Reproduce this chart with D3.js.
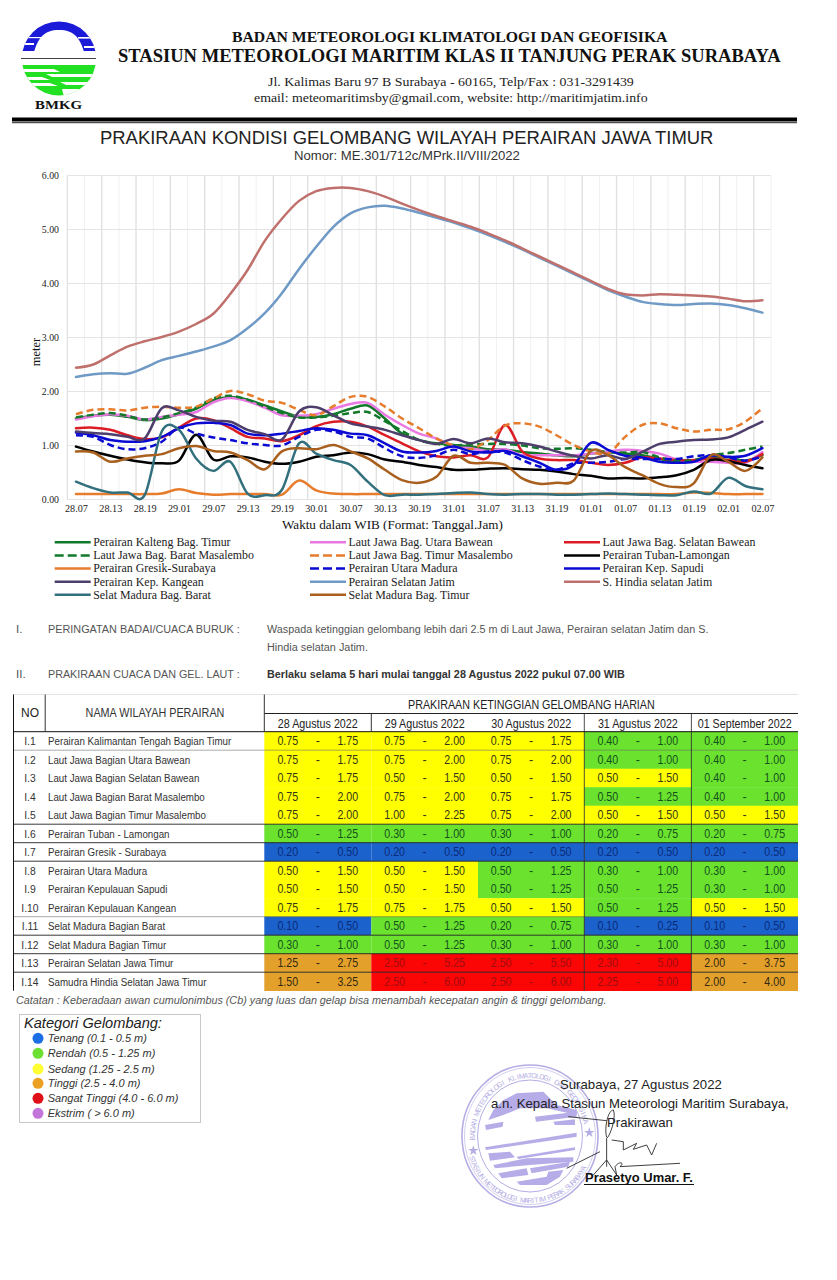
<!DOCTYPE html>
<html><head><meta charset="utf-8">
<script src="https://cdn.jsdelivr.net/npm/d3@7/dist/d3.min.js"></script>
<style>html,body{margin:0;padding:0;background:#fff}svg{display:block}</style>
</head><body><svg id="c" width="837" height="1280"></svg>
<script>
const times = ["28.07","28.10","28.13","28.16","28.19","28.22","29.01","29.04","29.07","29.10","29.13","29.16","29.19","29.22","30.01","30.04","30.07","30.10","30.13","30.16","30.19","30.22","31.01","31.04","31.07","31.10","31.13","31.16","31.19","31.22","01.01","01.04","01.07","01.10","01.13","01.16","01.19","01.22","02.01","02.04","02.07"];
const yTicks = [0,1,2,3,4,5,6];
const kalteng = [1.50,1.55,1.57,1.53,1.47,1.50,1.58,1.68,1.84,1.90,1.85,1.74,1.63,1.53,1.53,1.58,1.68,1.74,1.50,1.22,1.10,1.04,1.01,0.98,0.93,0.92,0.88,0.85,0.82,0.80,0.85,0.88,0.85,0.82,0.75,0.70,0.72,0.78,0.78,0.72,0.82];
const utaraBawean = [1.48,1.54,1.58,1.55,1.48,1.53,1.57,1.62,1.80,1.88,1.82,1.70,1.56,1.55,1.58,1.68,1.77,1.79,1.57,1.38,1.22,1.13,0.98,0.95,0.90,0.93,0.82,0.82,0.82,0.82,0.85,0.89,0.92,0.90,0.85,0.74,0.70,0.70,0.68,0.68,0.88];
const selatanBawean = [1.32,1.33,1.29,1.19,1.12,1.15,1.33,1.50,1.47,1.32,1.16,1.13,1.08,1.19,1.36,1.44,1.44,1.35,1.19,1.04,0.89,0.80,0.78,0.82,0.78,1.38,0.89,0.76,0.73,0.73,0.68,0.64,0.68,0.78,0.76,0.73,0.73,0.76,0.73,0.70,0.84];
const baratMasalembo = [1.52,1.57,1.60,1.55,1.48,1.52,1.60,1.70,1.87,1.92,1.85,1.72,1.60,1.52,1.52,1.55,1.60,1.62,1.45,1.27,1.10,1.03,1.00,1.02,1.03,1.03,1.00,0.95,0.94,0.95,0.92,0.88,0.87,0.88,0.78,0.72,0.73,0.82,0.86,0.92,0.98];
const timurMasalembo = [1.58,1.66,1.67,1.65,1.70,1.72,1.70,1.72,1.87,2.01,1.95,1.83,1.79,1.66,1.56,1.73,1.90,1.90,1.72,1.50,1.32,1.13,1.00,0.93,1.10,1.37,1.41,1.35,1.19,1.01,0.89,0.85,1.16,1.38,1.41,1.32,1.26,1.29,1.30,1.44,1.69];
const tubanLamongan = [0.98,0.89,0.81,0.74,0.69,0.67,0.72,1.20,0.74,0.80,0.78,0.70,0.66,0.70,0.79,0.82,0.87,0.84,0.74,0.70,0.64,0.60,0.55,0.55,0.57,0.58,0.56,0.55,0.52,0.47,0.44,0.39,0.40,0.39,0.41,0.45,0.55,0.73,0.71,0.64,0.58];
const gresikSurabaya = [0.10,0.10,0.10,0.10,0.10,0.11,0.19,0.12,0.09,0.10,0.10,0.10,0.09,0.35,0.17,0.11,0.10,0.10,0.10,0.10,0.10,0.10,0.10,0.10,0.10,0.10,0.10,0.10,0.10,0.10,0.10,0.10,0.10,0.10,0.10,0.10,0.13,0.12,0.10,0.10,0.10];
const utaraMadura = [1.19,1.16,1.01,0.93,0.95,1.07,1.33,1.22,1.15,1.10,1.04,1.01,1.00,1.16,1.29,1.26,1.16,1.13,0.95,0.80,0.77,0.82,0.92,0.84,0.89,0.87,0.73,0.61,0.55,0.67,0.68,0.70,0.75,0.75,0.75,0.75,0.80,0.82,0.78,0.72,0.80];
const kepSapudi = [1.24,1.19,1.10,1.07,1.08,1.16,1.32,1.41,1.42,1.38,1.22,1.19,1.22,1.27,1.32,1.29,1.22,1.19,1.04,0.89,0.87,0.90,0.98,0.89,0.87,0.90,0.80,0.68,0.55,0.64,1.05,0.92,0.81,0.78,0.70,0.68,0.70,0.82,0.79,0.81,0.95];
const kepKangean = [1.26,1.23,1.21,1.16,1.13,1.69,1.65,1.53,1.46,1.44,1.29,1.21,1.11,1.63,1.71,1.56,1.41,1.35,1.29,1.19,1.10,1.03,1.12,1.04,1.13,1.06,1.04,0.98,0.89,0.81,0.76,0.82,0.75,0.88,1.03,1.07,1.10,1.11,1.15,1.29,1.44];
const selatanJatim = [2.27,2.32,2.34,2.33,2.44,2.58,2.66,2.74,2.83,2.95,3.17,3.45,3.82,4.27,4.68,5.05,5.30,5.41,5.44,5.39,5.31,5.22,5.13,5.02,4.90,4.77,4.63,4.48,4.33,4.18,4.03,3.88,3.76,3.66,3.62,3.60,3.62,3.63,3.60,3.54,3.46];
const hindiaSelatan = [2.44,2.50,2.67,2.83,2.93,3.01,3.11,3.25,3.44,3.81,4.25,4.79,5.20,5.53,5.71,5.77,5.77,5.71,5.61,5.48,5.36,5.25,5.15,5.05,4.93,4.80,4.65,4.50,4.35,4.20,4.05,3.90,3.80,3.78,3.80,3.79,3.78,3.76,3.72,3.67,3.69];
const selatBarat = [0.33,0.21,0.13,0.13,0.08,1.26,1.29,0.76,0.53,0.70,0.11,0.08,0.18,1.04,0.85,0.73,0.64,0.33,0.08,0.09,0.09,0.10,0.12,0.13,0.10,0.09,0.10,0.10,0.09,0.09,0.10,0.11,0.10,0.09,0.08,0.08,0.15,0.11,0.40,0.25,0.19];
const selatTimur = [0.89,0.87,0.70,0.76,0.81,0.84,0.95,0.99,0.90,0.87,0.73,0.56,0.89,0.95,0.93,1.01,0.89,0.76,0.55,0.36,0.31,0.42,0.81,0.68,0.68,0.64,0.39,0.29,0.31,0.35,0.90,0.82,0.60,0.45,0.29,0.23,0.30,0.82,0.70,0.53,0.78];

const seriesNames = ["Perairan Kalteng Bag. Timur","Laut Jawa Bag. Utara Bawean","Laut Jawa Bag. Selatan Bawean","Laut Jawa Bag. Barat Masalembo","Laut Jawa Bag. Timur Masalembo","Perairan Tuban-Lamongan","Perairan Gresik-Surabaya","Perairan Utara Madura","Perairan Kep. Sapudi","Perairan Kep. Kangean","Perairan Selatan Jatim","S. Hindia selatan Jatim","Selat Madura Bag. Barat","Selat Madura Bag. Timur"];
const seriesValues = [kalteng,utaraBawean,selatanBawean,baratMasalembo,timurMasalembo,tubanLamongan,gresikSurabaya,utaraMadura,kepSapudi,kepKangean,selatanJatim,hindiaSelatan,selatBarat,selatTimur];
const seriesColors = ["#12792a","#ea78e2","#dc1c24","#12792a","#e67c2c","#000000","#e67c2c","#0a0ad2","#0a0ad2","#4e3e6c","#6f9ac6","#c0706c","#33707e","#a9601e"];
const seriesDashed = [0,0,0,1,1,0,0,1,0,0,0,0,0,0];

const tableNo = ["I.1","I.2","I.3","I.4","I.5","I.6","I.7","I.8","I.9","I.10","I.11","I.12","I.13","I.14"];
const tableNames = ["Perairan Kalimantan Tengah Bagian Timur","Laut Jawa Bagian Utara Bawean","Laut Jawa Bagian Selatan Bawean","Laut Jawa Bagian Barat Masalembo","Laut Jawa Bagian Timur Masalembo","Perairan Tuban - Lamongan","Perairan Gresik - Surabaya","Perairan Utara Madura","Perairan Kepulauan Sapudi","Perairan Kepulauan Kangean","Selat Madura Bagian Barat","Selat Madura Bagian Timur","Perairan Selatan Jawa Timur","Samudra Hindia Selatan Jawa Timur"];
const tableDays = ["28 Agustus 2022","29 Agustus 2022","30 Agustus 2022","31 Agustus 2022","01 September 2022"];
const tableLow = [
["0.75","0.75","0.75","0.40","0.40"],["0.75","0.75","0.75","0.40","0.40"],["0.75","0.50","0.50","0.50","0.40"],["0.75","0.75","0.75","0.50","0.40"],["0.75","1.00","0.75","0.50","0.50"],["0.50","0.30","0.30","0.20","0.20"],["0.20","0.20","0.20","0.20","0.20"],["0.50","0.50","0.50","0.30","0.30"],["0.50","0.50","0.50","0.50","0.30"],["0.75","0.75","0.50","0.50","0.50"],["0.10","0.50","0.20","0.10","0.10"],["0.30","0.50","0.30","0.30","0.30"],["1.25","2.50","2.50","2.30","2.00"],["1.50","2.50","2.50","2.25","2.00"]];
const tableHigh = [
["1.75","2.00","1.75","1.00","1.00"],["1.75","2.00","2.00","1.00","1.00"],["1.75","1.50","1.50","1.50","1.00"],["2.00","2.00","1.75","1.25","1.00"],["2.00","2.25","2.00","1.50","1.50"],["1.25","1.00","1.00","0.75","0.75"],["0.50","0.50","0.50","0.50","0.50"],["1.50","1.50","1.25","1.00","1.00"],["1.50","1.50","1.25","1.25","1.00"],["1.75","1.75","1.50","1.25","1.50"],["0.50","1.25","0.75","0.25","0.50"],["1.00","1.25","1.00","1.00","1.00"],["2.75","5.25","5.50","5.00","3.75"],["3.25","6.00","6.00","5.00","4.00"]];
const tableClass = ["SSSRR","SSSRR","SSSSR","SSSRR","SSSSS","RRRRR","TTTTT","SSRRR","SSRRR","SSSRS","TRRTT","RRRRR","OXXXO","OXXXO"];
const classFill = {T:"#1c62cc",R:"#6ae22e",S:"#ffff00",O:"#e3a12c",X:"#fb0505"};
const classText = {T:"#0a2a78",R:"#14501e",S:"#34341a",O:"#342812",X:"#a00c12"};
const categoryNames = ["Tenang (0.1 - 0.5 m)","Rendah (0.5 - 1.25 m)","Sedang (1.25 - 2.5 m)","Tinggi (2.5 - 4.0 m)","Sangat Tinggi (4.0 - 6.0 m)","Ekstrim ( > 6.0 m)"];
const categoryColors = ["#1a6fe4","#6ce032","#ffff33","#eba022","#e01018","#c276da"];

const SANS = "'Liberation Sans',Arial,sans-serif", SERIF = "'Liberation Serif','Times New Roman',serif";
const svg = d3.select("#c");
function txt(g, s, x, y, o = {}) {
  const t = g.append("text").text(s)
    .attr("font-family", o.f || SANS).attr("font-size", o.s || 12).attr("fill", o.c || "#000");
  if (o.b) t.attr("font-weight", "bold");
  if (o.i) t.attr("font-style", "italic");
  if (o.a) t.attr("text-anchor", o.a);
  if (o.w || o.sx) {
    const sx = o.w ? o.w / t.node().getComputedTextLength() : o.sx;
    t.attr("transform", `translate(${x},${y}) scale(${sx},1)`);
  } else {
    t.attr("x", x).attr("y", y);
  }
  return t;
}

/* ---------- letterhead ---------- */
const head = svg.append("g").attr("id", "letterhead");
const defs = svg.append("defs");
defs.append("clipPath").attr("id", "logoTop").append("path").attr("d", "M22 58 A37 36.5 0 0 1 96 58 Z");
defs.append("clipPath").attr("id", "logoBot").append("path").attr("d", "M22 59 A37 36.5 0 0 0 96 59 Z");
const lt = head.append("g").attr("clip-path", "url(#logoTop)");
lt.append("rect").attr("x", 20).attr("y", 20).attr("width", 78).attr("height", 31).attr("fill", "#1a1ad8");
lt.append("path").attr("d", "M34 52 C38 38 44 30 59 30 C74 30 80 38 84 52 Z").attr("fill", "#fff");
lt.append("rect").attr("x", 20).attr("y", 37).attr("width", 22).attr("height", 1.2).attr("fill", "#fff");
lt.append("rect").attr("x", 78).attr("y", 37).attr("width", 20).attr("height", 1.6).attr("fill", "#fff");
lt.append("rect").attr("x", 20).attr("y", 43).attr("width", 14).attr("height", 2).attr("fill", "#fff");
lt.append("rect").attr("x", 84).attr("y", 46).attr("width", 14).attr("height", 2).attr("fill", "#fff");
const lb = head.append("g").attr("clip-path", "url(#logoBot)");
lb.append("rect").attr("x", 20).attr("y", 65).attr("width", 78).attr("height", 31).attr("fill", "#22e022");
["M20 69 L54 69 L60 72 L20 72Z","M46 74 L98 74 L98 77 L52 77Z","M20 77 L42 77 L50 80 L20 80Z","M60 82 L98 82 L98 85 L66 85Z","M20 83 L50 83 L58 86 L20 86Z","M62 89 L98 89 L98 97 L64 97Z"]
  .forEach(d => lb.append("path").attr("d", d).attr("fill", "#fff"));
head.append("line").attr("x1", 21).attr("x2", 96).attr("y1", 58.5).attr("y2", 58.5).attr("stroke", "#111").attr("stroke-width", 0.8);
txt(head, "BMKG", 58.5, 109, {f: SERIF, s: 13.5, b: 1, a: "middle", c: "#111", w: 47});
txt(head, "BADAN METEOROLOGI KLIMATOLOGI DAN GEOFISIKA", 232, 41.5, {f: SERIF, s: 15, b: 1, c: "#111", w: 436});
txt(head, "STASIUN METEOROLOGI MARITIM KLAS II TANJUNG PERAK SURABAYA", 118, 62, {f: SERIF, s: 18.5, b: 1, c: "#111", w: 663});
txt(head, "Jl. Kalimas Baru 97 B Surabaya - 60165, Telp/Fax : 031-3291439", 268, 86, {f: SERIF, s: 13.5, c: "#222", w: 366});
txt(head, "email: meteomaritimsby@gmail.com, website: http://maritimjatim.info", 254, 102, {f: SERIF, s: 13.5, c: "#222", w: 394});
head.append("rect").attr("x", 12).attr("y", 117.5).attr("width", 785).attr("height", 4).attr("fill", "#000");
head.append("rect").attr("x", 12).attr("y", 122.2).attr("width", 785).attr("height", 1).attr("fill", "#222");
txt(head, "PRAKIRAAN KONDISI GELOMBANG WILAYAH PERAIRAN JAWA TIMUR", 100, 144, {s: 17.5, c: "#222", w: 614});
txt(head, "Nomor: ME.301/712c/MPrk.II/VIII/2022", 294, 160, {s: 12.5, c: "#333", w: 226});

/* ---------- chart ---------- */
const chart = svg.append("g").attr("id", "chart");
const x = d3.scalePoint().domain(times).range([67.4, 771]).padding(0.5);
const y = d3.scaleLinear().domain([0, 6]).range([499.5, 175.5]);
const step = x.step();
const grid = chart.append("g");
times.forEach((t, i) => {
  const major = i % 2 === 1;
  grid.append("line").attr("x1", x(t) + step / 2).attr("x2", x(t) + step / 2).attr("y1", y(6)).attr("y2", y(0))
    .attr("stroke", major ? "#dfdfdf" : "#f0f0f0").attr("stroke-width", major ? 1.3 : 1);
});
grid.append("line").attr("x1", x.range()[0]).attr("x2", x.range()[0]).attr("y1", y(6)).attr("y2", y(0)).attr("stroke", "#dfdfdf").attr("stroke-width", 1.2);
yTicks.forEach(v => grid.append("line").attr("x1", x.range()[0]).attr("x2", x.range()[1]).attr("y1", y(v)).attr("y2", y(v)).attr("stroke", "#e4e4e4").attr("stroke-width", 1.2));

const line = d3.line().x((d, i) => x(times[i])).y(d => y(d)).curve(d3.curveCatmullRom.alpha(0));
const order = d3.range(seriesValues.length);
chart.append("g").selectAll("path").data(order).join("path")
  .attr("d", k => line(seriesValues[k])).attr("fill", "none")
  .attr("stroke", k => seriesColors[k]).attr("stroke-width", 2.5)
  .attr("stroke-linecap", k => seriesDashed[k] ? "butt" : "round").attr("stroke-linejoin", "round")
  .attr("stroke-dasharray", k => seriesDashed[k] ? "7,4" : null);

const ax = chart.append("g").attr("transform", `translate(0,${y(0)})`)
  .call(d3.axisBottom(x).tickValues(times.filter((t, i) => i % 2 === 0)).tickSize(0).tickPadding(5));
ax.select(".domain").remove();
ax.selectAll("text").attr("font-family", SERIF).attr("font-size", 10.2).attr("fill", "#222");
const ay = chart.append("g").attr("transform", "translate(62,0)")
  .call(d3.axisLeft(y).tickValues(yTicks).tickFormat(d3.format(".2f")).tickSize(0).tickPadding(3));
ay.select(".domain").remove();
ay.selectAll("text").attr("font-family", SERIF).attr("font-size", 9.8).attr("fill", "#222");
txt(chart, "meter", 0, 0, {f: SERIF, s: 12.5, a: "middle", c: "#111"}).attr("transform", "translate(40,352) rotate(-90)");
txt(chart, "Waktu dalam WIB (Format: Tanggal.Jam)", 282, 529, {f: SERIF, s: 12, c: "#111", w: 221});

/* ---------- chart legend ---------- */
const leg = chart.append("g");
const legX = [54.7, 310, 564];
const legY = [542.3, 555.5, 568.5, 581.7, 594.7];
seriesNames.forEach((n, k) => {
  const c = k % 3, r = Math.floor(k / 3), lx = legX[c], ly = legY[r];
  leg.append("line").attr("x1", lx).attr("x2", lx + 36).attr("y1", ly).attr("y2", ly)
    .attr("stroke", seriesColors[k]).attr("stroke-width", 2.5).attr("stroke-dasharray", seriesDashed[k] ? "9,4" : null);
  txt(leg, n, lx + 38.5, ly + 3.8, {f: SERIF, s: 11.9, c: "#222"});
});

/* ---------- notes ---------- */
const notes = svg.append("g").attr("id", "notes");
txt(notes, "I.", 16, 633, {s: 11.5, c: "#555"});
txt(notes, "PERINGATAN BADAI/CUACA BURUK :", 48, 633, {s: 11.5, c: "#555", w: 192});
txt(notes, "Waspada ketinggian gelombang lebih dari 2.5 m di Laut Jawa, Perairan selatan Jatim dan S.", 267, 633, {s: 11.5, c: "#555", w: 442});
txt(notes, "Hindia selatan Jatim.", 267, 650.5, {s: 11.5, c: "#555", w: 101});
txt(notes, "II.", 16, 678, {s: 11.5, c: "#555"});
txt(notes, "PRAKIRAAN CUACA DAN GEL. LAUT :", 48, 678, {s: 11.5, c: "#555", w: 192});
txt(notes, "Berlaku selama 5 hari mulai tanggal 28 Agustus 2022 pukul 07.00 WIB", 267, 678, {s: 11.5, b: 1, c: "#333", w: 358});

/* ---------- table ---------- */
const tb = svg.append("g").attr("id", "table");
const colX = [264.3, 371.3, 478, 584.3, 691.4, 798];
const rowTop = 731.7, rowH = 18.5;
const rowY = d3.scaleLinear().domain([0, 14]).range([rowTop, rowTop + 14 * rowH]);
tableClass.forEach((cls, r) => {
  [...cls].forEach((c, d) => {
    tb.append("rect").attr("x", colX[d]).attr("y", rowY(r)).attr("width", colX[d + 1] - colX[d]).attr("height", rowH + 0.3).attr("fill", classFill[c]);
    const cx = (colX[d] + colX[d + 1]) / 2, ty = rowY(r) + 13.5;
    const tc = classText[c];
    txt(tb, tableLow[r][d], cx - 30, ty, {s: 12.5, sx: 0.85, a: "middle", c: tc});
    txt(tb, "-", cx, ty, {s: 12.5, a: "middle", c: tc});
    txt(tb, tableHigh[r][d], cx + 30, ty, {s: 12.5, sx: 0.85, a: "middle", c: tc});
  });
  txt(tb, tableNo[r], 30, rowY(r) + 13.5, {s: 11.5, sx: 0.9, a: "middle", c: "#333"});
  txt(tb, tableNames[r], 48, rowY(r) + 13.5, {s: 11.5, sx: 0.85, c: "#333"});
});
const hl = (x1, x2, yy, c, w) => tb.append("line").attr("x1", x1).attr("x2", x2).attr("y1", yy).attr("y2", yy).attr("stroke", c).attr("stroke-width", w || 1);
const vl = (xx, y1, y2, c, w) => tb.append("line").attr("x1", xx).attr("x2", xx).attr("y1", y1).attr("y2", y2).attr("stroke", c).attr("stroke-width", w || 1);
hl(13.5, 798, 694.5, "#e4e4e4");
hl(264.3, 798, 713.5, "#222");
hl(13.5, 798, rowTop, "#111");
[5, 6, 7, 11, 12, 13].forEach(r => hl(13.5, 798, rowY(r), "#222", 0.9));
[1, 10].forEach(r => hl(13.5, 798, rowY(r), "#555", 0.5));
vl(13.5, 694.5, rowY(14), "#111");
vl(45.2, 694.5, rowTop, "#333");
vl(264.3, 694.5, rowTop, "#333");
vl(371.3, 713.5, rowTop, "#333");
vl(584.3, 713.5, rowY(14), "#222", 0.8);
vl(691.4, 713.5, rowY(14), "#222", 0.8);
txt(tb, "NO", 30, 717, {s: 12, a: "middle", c: "#222"});
txt(tb, "NAMA WILAYAH PERAIRAN", 155, 717, {s: 12.5, a: "middle", c: "#333", w: 139});
txt(tb, "PRAKIRAAN KETINGGIAN GELOMBANG HARIAN", 408, 708.5, {s: 12, c: "#222", w: 247});
tableDays.forEach((n, d) => txt(tb, n, (colX[d] + colX[d + 1]) / 2, 727.5, {s: 12, a: "middle", c: "#222", w: d === 4 ? 94 : 80}));
txt(tb, "Catatan :  Keberadaan awan cumulonimbus (Cb) yang luas dan gelap bisa menambah kecepatan angin & tinggi gelombang.", 16, 1004, {s: 11.5, i: 1, c: "#555", w: 591});

/* ---------- category legend ---------- */
const cat = svg.append("g").attr("id", "kategori");
cat.append("rect").attr("x", 19.5).attr("y", 1014.5).attr("width", 181).attr("height", 108).attr("fill", "#fff").attr("stroke", "#c8c8c8");
txt(cat, "Kategori Gelombang:", 24, 1027.5, {s: 14, i: 1, c: "#222", w: 138});
const catY = [1038.3, 1053.3, 1069, 1083.3, 1098.3, 1113.3];
categoryNames.forEach((n, i) => {
  cat.append("circle").attr("cx", 38).attr("cy", catY[i]).attr("r", 5.5).attr("fill", categoryColors[i]);
  txt(cat, n, 47.7, catY[i] + 3.8, {s: 11, i: 1, c: "#333"});
});

/* ---------- stamp + signature ---------- */
const st = svg.append("g").attr("id", "stamp");
const sc = "#b4aee4", scx = 530, scy = 1136;
st.append("ellipse").attr("cx", scx).attr("cy", scy).attr("rx", 68).attr("ry", 71).attr("fill", "none").attr("stroke", sc).attr("stroke-width", 1.6);
st.append("ellipse").attr("cx", scx).attr("cy", scy).attr("rx", 65.5).attr("ry", 68.5).attr("fill", "none").attr("stroke", sc).attr("stroke-width", 0.6);
st.append("ellipse").attr("cx", scx).attr("cy", scy).attr("rx", 52.5).attr("ry", 56).attr("fill", "none").attr("stroke", sc).attr("stroke-width", 1);
const stampTop = "BADAN METEOROLOGI KLIMATOLOGI DAN GEOFISIKA";
const stampBot = "STASIUN METEOROLOGI MARITIM PERAK SURABAYA";
const rad = Math.PI / 180;
[...stampTop].forEach((ch, i) => {
  const a = -92 + i * 168 / (stampTop.length - 1);
  st.append("text").text(ch).attr("font-family", SANS).attr("font-size", 7.2).attr("fill", sc).attr("text-anchor", "middle")
    .attr("transform", `translate(${scx + 55 * Math.sin(a * rad)},${scy - 58 * Math.cos(a * rad)}) rotate(${a})`);
});
[...stampBot].forEach((ch, i) => {
  const a = -70 + i * 130 / (stampBot.length - 1);
  st.append("text").text(ch).attr("font-family", SANS).attr("font-size", 7.2).attr("fill", sc).attr("text-anchor", "middle")
    .attr("transform", `translate(${scx + 64 * Math.sin(a * rad)},${scy + 67 * Math.cos(a * rad)}) rotate(${-a})`);
});
const stripes = st.append("g").attr("transform", "translate(460,1060) scale(0.3333)");
["M85 180 L100 150 L130 120 L170 100 L250 95 L290 135 L350 150 L350 165 L260 145 L180 145 L130 165 Z",
 "M75 195 L130 185 L128 200 L78 210Z","M225 170 L350 155 L350 170 L228 185Z","M280 185 L345 178 L345 195 L285 195Z",
 "M75 262 L350 218 L350 230 L78 270Z","M85 280 L150 275 L165 292 L90 302Z","M170 290 L345 262 L345 270 L175 297Z",
 "M100 315 L200 295 L340 292 L340 305 L210 315 L105 325Z","M115 340 L200 325 L205 345 L125 355Z","M210 325 L330 305 L325 320 L215 340Z",
 "M170 365 L260 350 L265 335 L310 330 L300 350 L260 375 L180 375Z"]
  .forEach(d => stripes.append("path").attr("d", d).attr("fill", "#b6ace8"));
[[40,272],[388,218]].forEach(p => stripes.append("path").attr("d", d3.symbol(d3.symbolStar, 300)()).attr("transform", `translate(${p[0]},${p[1]})`).attr("fill", sc));

const sig = svg.append("g").attr("id", "signature");
txt(sig, "Surabaya, 27 Agustus 2022", 560, 1089, {s: 13, c: "#222", w: 162});
txt(sig, "a.n. Kepala Stasiun Meteorologi Maritim Surabaya,", 491, 1107.5, {s: 13, c: "#222", w: 298});
txt(sig, "Prakirawan", 607, 1126.5, {s: 13, c: "#222", w: 66});
txt(sig, "Prasetyo Umar. F.", 585, 1182, {s: 13, b: 1, c: "#111", w: 108});
sig.append("line").attr("x1", 584).attr("x2", 694).attr("y1", 1184.5).attr("y2", 1184.5).attr("stroke", "#111").attr("stroke-width", 1.2);
const scrib = sig.append("g").attr("transform", "translate(460,1060) scale(0.3333)");
["M325 170 L440 182",
 "M440 232 C432 200 445 150 460 150 C470 170 450 230 440 235",
 "M440 235 L440 320",
 "M455 240 L490 245 L490 270 L530 250 L520 268 L560 255 L575 285 L590 250",
 "M320 325 L420 275",
 "M400 345 L440 300 L470 345 L465 320 C480 300 495 310 480 320 L660 310"]
  .forEach(d => scrib.append("path").attr("d", d).attr("fill", "none").attr("stroke", "#222").attr("stroke-width", 2.6));
</script></body></html>
